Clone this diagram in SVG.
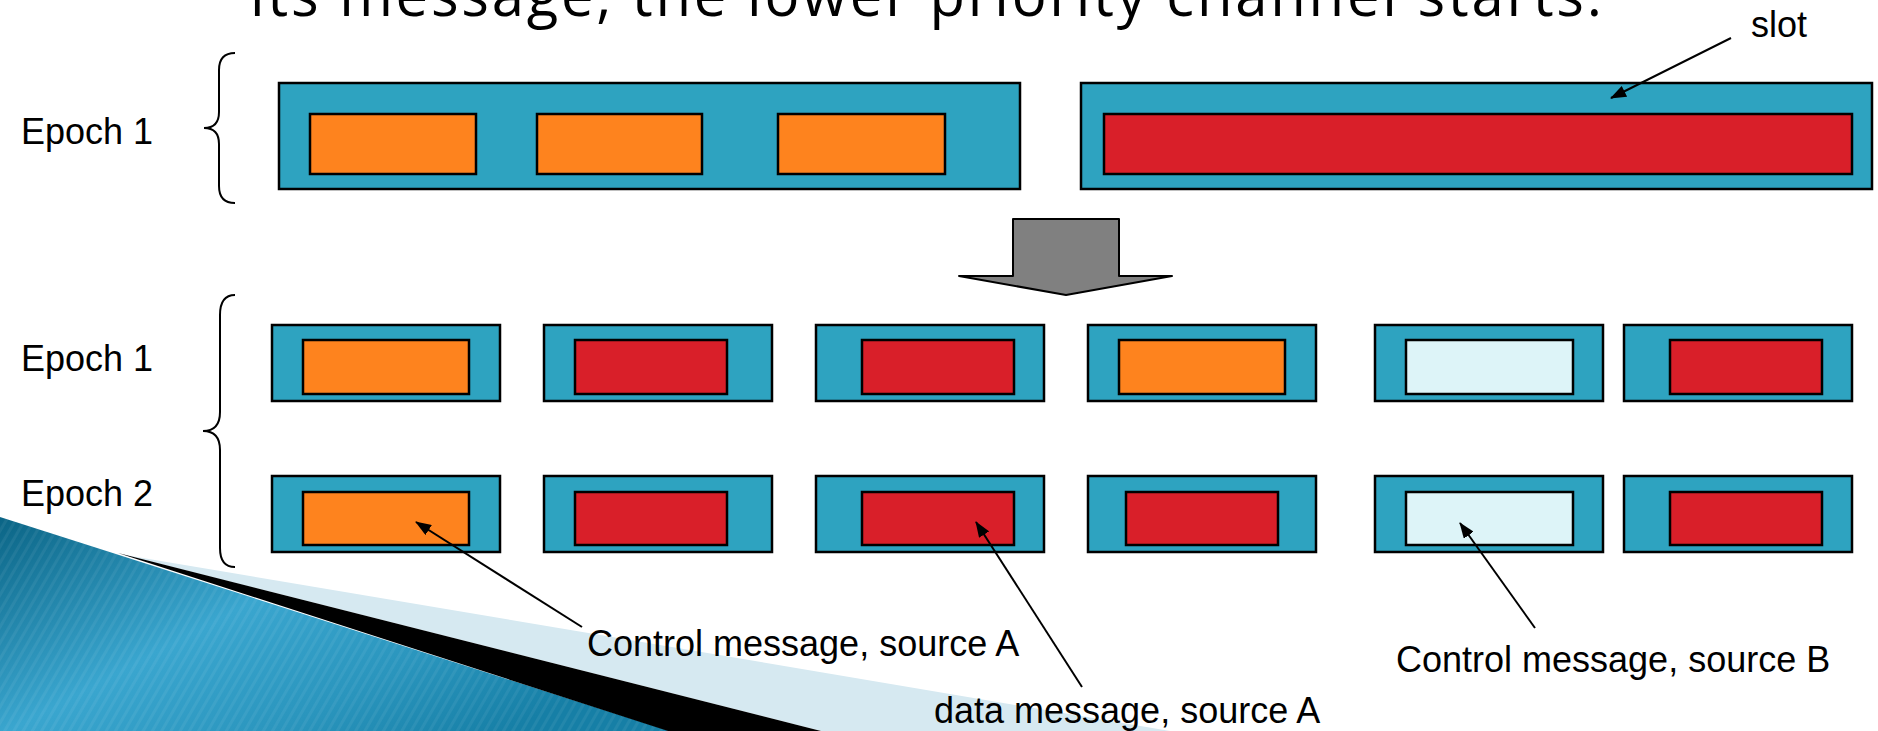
<svg xmlns="http://www.w3.org/2000/svg" width="1878" height="731" viewBox="0 0 1878 731">
<defs>
<linearGradient id="blueG" x1="0" y1="0" x2="1" y2="0.6">
<stop offset="0" stop-color="#0a6485"/>
<stop offset="0.45" stop-color="#3aa6cf"/>
<stop offset="0.75" stop-color="#2a95bd"/>
<stop offset="1" stop-color="#167fa6"/>
</linearGradient>
<pattern id="stripes" width="8" height="8" patternUnits="userSpaceOnUse" patternTransform="rotate(30)">
<rect width="3" height="8" fill="#ffffff" fill-opacity="0.06"/>
</pattern>
<marker id="ah" viewBox="0 0 16 12" refX="15" refY="6" markerWidth="16" markerHeight="12" markerUnits="userSpaceOnUse" orient="auto">
<path d="M0,0 L16,6 L0,12 Z" fill="#000"/>
</marker>
<style>
.slot{fill:#2ea3c0;stroke:#000;stroke-width:2.5}
.or{fill:#fe831e;stroke:#000;stroke-width:2.5}
.rd{fill:#d91f29;stroke:#000;stroke-width:2.5}
.lt{fill:#ddf4f8;stroke:#000;stroke-width:2.5}
.lbl{font-family:"Liberation Sans",Arial,sans-serif;font-size:36px;fill:#000}
.brace{fill:none;stroke:#000;stroke-width:2}
.conn{fill:none;stroke:#000;stroke-width:2;marker-end:url(#ah)}
</style>
</defs>
<rect width="1878" height="731" fill="#fff"/>
<g id="background">
<polygon points="0,517 670,731 0,731" fill="url(#blueG)"/>
<polygon points="0,517 670,731 0,731" fill="url(#stripes)"/>
<polygon points="125,555 1170,731 821,731" fill="#d6e9f1"/>
<polygon points="118,553 821,731 668,731" fill="#000"/>
</g>
<text x="250" y="16" font-family="'Open Sans','Noto Sans',sans-serif" font-size="58" textLength="1352" lengthAdjust="spacing" fill="#000">its message, the lower priority channel starts.</text>
<g id="labels">
<text class="lbl" x="21" y="144">Epoch 1</text>
<text class="lbl" x="21" y="371">Epoch 1</text>
<text class="lbl" x="21" y="506">Epoch 2</text>
</g>
<g id="braces">
<path class="brace" d="M235,53 Q219,53 219,70 L219,112 Q219,128 204,128 Q219,128 219,144 L219,186 Q219,203 235,203"/>
<path class="brace" d="M235,295 Q220,295 220,315 L220,412 Q220,431 203,431 Q220,431 220,450 L220,548 Q220,567 235,567"/>
</g>
<g id="epoch-top">
<g id="top-slot-a">
<rect class="slot" x="279" y="83" width="741" height="106"/>
<rect class="or" x="310" y="114" width="166" height="60"/>
<rect class="or" x="537" y="114" width="165" height="60"/>
<rect class="or" x="778" y="114" width="167" height="60"/>
</g>
<g id="top-slot-b">
<rect class="slot" x="1081" y="83" width="791" height="106"/>
<rect class="rd" x="1104" y="114" width="748" height="60"/>
</g>
</g>
<g id="big-arrow">
<polygon points="1013,219 1119,219 1119,276 1172,276 1066,295 959,276 1013,276" fill="#808080" stroke="#000" stroke-width="2" stroke-linejoin="round"/>
</g>
<g id="row1">
<g id="r1s1"><rect class="slot" x="272" y="325" width="228" height="76"/><rect class="or" x="303" y="340" width="166" height="54"/></g>
<g id="r1s2"><rect class="slot" x="544" y="325" width="228" height="76"/><rect class="rd" x="575" y="340" width="152" height="54"/></g>
<g id="r1s3"><rect class="slot" x="816" y="325" width="228" height="76"/><rect class="rd" x="862" y="340" width="152" height="54"/></g>
<g id="r1s4"><rect class="slot" x="1088" y="325" width="228" height="76"/><rect class="or" x="1119" y="340" width="166" height="54"/></g>
<g id="r1s5"><rect class="slot" x="1375" y="325" width="228" height="76"/><rect class="lt" x="1406" y="340" width="167" height="54"/></g>
<g id="r1s6"><rect class="slot" x="1624" y="325" width="228" height="76"/><rect class="rd" x="1670" y="340" width="152" height="54"/></g>
</g>
<g id="row2">
<g id="r2s1"><rect class="slot" x="272" y="476" width="228" height="76"/><rect class="or" x="303" y="492" width="166" height="53"/></g>
<g id="r2s2"><rect class="slot" x="544" y="476" width="228" height="76"/><rect class="rd" x="575" y="492" width="152" height="53"/></g>
<g id="r2s3"><rect class="slot" x="816" y="476" width="228" height="76"/><rect class="rd" x="862" y="492" width="152" height="53"/></g>
<g id="r2s4"><rect class="slot" x="1088" y="476" width="228" height="76"/><rect class="rd" x="1126" y="492" width="152" height="53"/></g>
<g id="r2s5"><rect class="slot" x="1375" y="476" width="228" height="76"/><rect class="lt" x="1406" y="492" width="167" height="53"/></g>
<g id="r2s6"><rect class="slot" x="1624" y="476" width="228" height="76"/><rect class="rd" x="1670" y="492" width="152" height="53"/></g>
</g>
<g id="connectors">
<line class="conn" x1="1731" y1="38" x2="1611" y2="98"/>
<line class="conn" x1="582" y1="627" x2="416" y2="522"/>
<line class="conn" x1="1082" y1="687" x2="976" y2="522"/>
<line class="conn" x1="1535" y1="628" x2="1460" y2="523"/>
</g>
<g id="annotations">
<text class="lbl" x="1751" y="37">slot</text>
<text class="lbl" x="587" y="656">Control message, source A</text>
<text class="lbl" x="934" y="723">data message, source A</text>
<text class="lbl" x="1396" y="672">Control message, source B</text>
</g>
</svg>
